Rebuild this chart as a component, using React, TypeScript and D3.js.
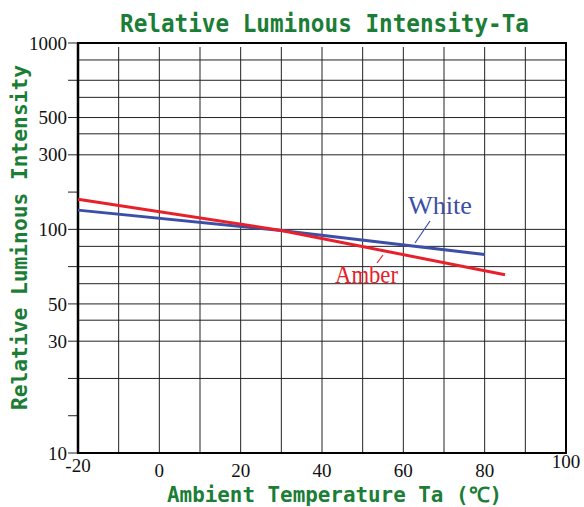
import * as d3 from 'd3';

// y axis ticks are evenly spaced in the original (piecewise log)
const yTickValues = [10, 15, 20, 30, 50, 70, 100, 200, 300, 500, 700, 1000];
const yLabelValues = [10, 30, 50, 100, 300, 500, 1000];
const yGridValues = [20, 30, 40, 50, 60, 70, 85, 100, 300, 400, 500, 600, 700, 850];
const xTickValues = [-20, 0, 20, 40, 60, 80, 100];
const xGridValues = [-10, 0, 10, 20, 30, 40, 50, 60, 70, 80, 90];

const whiteTemp = [-20, 30, 80];
const whiteVal = [143, 99, 78.6];
const amberTemp = [-20, 30, 85];
const amberVal = [175, 99, 65];

const GREEN = '#1b7d36';
const BLUE = '#3b4fa6';
const RED = '#e8202a';
const MONO = '"DejaVu Sans Mono", "Liberation Mono", monospace';
const SERIF = '"Liberation Serif", "DejaVu Serif", serif';

export default function App() {
    const W = 584, H = 507;
    const left = 78, right = 566, top = 43, bottom = 453;

    const x = d3.scaleLinear().domain([-20, 100]).range([left, right]);
    const step = (bottom - top) / (yTickValues.length - 1);
    const y = d3.scaleLog()
        .domain(yTickValues)
        .range(yTickValues.map((_, i) => bottom - i * step));

    const line = d3.line<[number, number]>().x(d => x(d[0])).y(d => y(d[1]));
    const white = line(whiteTemp.map((t, i) => [t, whiteVal[i]] as [number, number]))!;
    const amber = line(amberTemp.map((t, i) => [t, amberVal[i]] as [number, number]))!;

    return (
        <svg width={W} height={H} style={{ position: 'absolute', left: 0, top: 0, background: '#fff' }}>
            {/* grid */}
            <g stroke="#222" strokeWidth={1}>
                {xGridValues.map(v => (
                    <line key={'x' + v} x1={x(v)} x2={x(v)} y1={top + 4} y2={bottom} />
                ))}
                {yGridValues.map(v => (
                    <line key={'y' + v} x1={left} x2={right} y1={y(v)} y2={y(v)} />
                ))}
                {yTickValues.map(v => (
                    <line key={'t' + v} x1={left - 10} x2={left} y1={y(v)} y2={y(v)} />
                ))}
            </g>
            {/* frame */}
            <rect x={left} y={top} width={right - left} height={bottom - top}
                fill="none" stroke="#000" strokeWidth={2} />
            <line x1={left} x2={left} y1={top} y2={bottom} stroke="#000" strokeWidth={2.5} />

            {/* y labels */}
            <g fontFamily={SERIF} fontSize={19} fill="#111" textAnchor="end">
                {yLabelValues.map(v => (
                    <text key={v} x={left - 11} y={y(v)} dy="0.35em">{v}</text>
                ))}
            </g>
            {/* x labels */}
            <g fontFamily={SERIF} fontSize={19} fill="#111" textAnchor="middle">
                {xTickValues.map(v => (
                    <text key={v} x={x(v)} y={v === 100 ? 468 : v === -20 ? 472 : 477}>{v}</text>
                ))}
            </g>

            {/* series */}
            <path d={white} fill="none" stroke={BLUE} strokeWidth={3} />
            <path d={amber} fill="none" stroke={RED} strokeWidth={3} />

            <line x1={430} y1={221} x2={415} y2={243} stroke={BLUE} strokeWidth={1.2} />
            <text x={408} y={214} fontFamily={SERIF} fontSize={26} fill={BLUE}
                textLength={64} lengthAdjust="spacingAndGlyphs">White</text>
            <line x1={377} y1={263} x2={383} y2={255} stroke={RED} strokeWidth={1.2} />
            <text x={335} y={283} fontFamily={SERIF} fontSize={26} fill={RED}
                textLength={63} lengthAdjust="spacingAndGlyphs">Amber</text>

            {/* titles */}
            <text x={120} y={32} fontFamily={MONO} fontWeight="bold" fontSize={24} fill={GREEN}
                textLength={409} lengthAdjust="spacingAndGlyphs">Relative Luminous Intensity-Ta</text>
            <text x={167} y={502} fontFamily={MONO} fontWeight="bold" fontSize={21} fill={GREEN}
                textLength={335} lengthAdjust="spacingAndGlyphs">Ambient Temperature Ta (℃)</text>
            <text transform="translate(27,410) rotate(-90)" fontFamily={MONO} fontWeight="bold"
                fontSize={21} fill={GREEN} textLength={345}
                lengthAdjust="spacingAndGlyphs">Relative Luminous Intensity</text>
        </svg>
    );
}
